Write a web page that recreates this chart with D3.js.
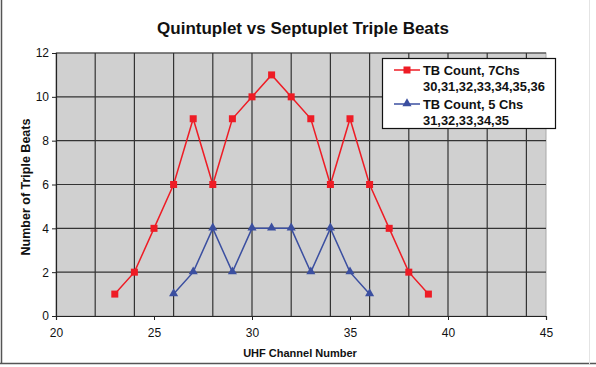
<!DOCTYPE html>
<html lang="en">
  <head>
    <meta charset="UTF-8" />
    <title>Quintuplet vs Septuplet Triple Beats</title>
    <script src="https://d3js.org/d3.v7.min.js"></script>
    <style>
      body { margin: 0; background: #fff; font-family: "Liberation Sans", Arial, sans-serif; }
    </style>
  </head>
  <body>
    <svg width="596" height="367"></svg>
    <script>
      const channels7 = [23, 24, 25, 26, 27, 28, 29, 30, 31, 32, 33, 34, 35, 36, 37, 38, 39];
      const counts7 = [1, 2, 4, 6, 9, 6, 9, 10, 11, 10, 9, 6, 9, 6, 4, 2, 1];
      const channels5 = [26, 27, 28, 29, 30, 31, 32, 33, 34, 35, 36];
      const counts5 = [1, 2, 4, 2, 4, 4, 4, 2, 4, 2, 1];
      const xTicks = [20, 25, 30, 35, 40, 45];
      const yTicks = [0, 2, 4, 6, 8, 10, 12];
      const xGrid = [22, 24, 26, 28, 30, 32, 34, 36, 38, 40, 42, 44];

      const svg = d3.select("svg");
      const margin = { left: 56, right: 50, top: 53, bottom: 51 };
      const width = 596, height = 367;

      const x = d3.scaleLinear().domain([20, 45]).range([margin.left, width - margin.right]);
      const y = d3.scaleLinear().domain([0, 12]).range([height - margin.bottom, margin.top]);

      // outer frame
      svg.append("line").attr("x1", 1.5).attr("x2", 1.5).attr("y1", 0).attr("y2", 364)
        .attr("stroke", "#555").attr("stroke-width", 1.5);
      svg.append("line").attr("x1", 0).attr("x2", 596).attr("y1", 363.5).attr("y2", 363.5)
        .attr("stroke", "#555").attr("stroke-width", 1.5);
      svg.append("line").attr("x1", 589.5).attr("x2", 589.5).attr("y1", 0).attr("y2", 364)
        .attr("stroke", "#e4e4e4");

      // plot area
      svg.append("rect")
        .attr("x", x(20)).attr("y", y(12))
        .attr("width", x(45) - x(20)).attr("height", y(0) - y(12))
        .attr("fill", "#d0d0d0").attr("stroke", "#a8a8a8");

      const grid = svg.append("g").attr("stroke", "#333").attr("stroke-width", 1.2);
      grid.selectAll(".gx").data(xGrid).enter().append("line")
        .attr("x1", (d) => x(d)).attr("x2", (d) => x(d))
        .attr("y1", y(0)).attr("y2", y(12));
      grid.selectAll(".gy").data(yTicks.slice(1)).enter().append("line")
        .attr("x1", x(20)).attr("x2", x(45))
        .attr("y1", (d) => y(d)).attr("y2", (d) => y(d));

      // axes
      const xAxis = svg.append("g")
        .attr("transform", `translate(0,${y(0)})`)
        .call(d3.axisBottom(x).tickValues(xTicks).tickSize(4).tickPadding(8));
      const yAxis = svg.append("g")
        .attr("transform", `translate(${x(20)},0)`)
        .call(d3.axisLeft(y).tickValues(yTicks).tickSize(4).tickPadding(3));
      [xAxis, yAxis].forEach((g) => {
        g.select(".domain").attr("stroke", "#222").attr("stroke-width", 1.2);
        g.selectAll(".tick line").attr("stroke", "#222");
        g.selectAll("text").attr("font-family", "Liberation Sans, Arial, sans-serif")
          .attr("font-size", 12).attr("fill", "#111");
      });

      // titles
      svg.append("text").attr("x", 303).attr("y", 34).attr("text-anchor", "middle")
        .attr("font-size", 17).attr("font-weight", "bold").attr("fill", "#111")
        .text("Quintuplet vs Septuplet Triple Beats");
      svg.append("text").attr("x", 300).attr("y", 357).attr("text-anchor", "middle")
        .attr("font-size", 11).attr("font-weight", "bold").attr("fill", "#111")
        .text("UHF Channel Number");
      svg.append("text").attr("transform", `translate(30,187) rotate(-90)`)
        .attr("text-anchor", "middle")
        .attr("font-size", 12.5).attr("font-weight", "bold").attr("fill", "#111")
        .text("Number of Triple Beats");

      const red = "#ee1c25", blue = "#3b4fa0";
      const line = d3.line().x((d) => x(d[0])).y((d) => y(d[1]));
      const tri = d3.symbol().type(d3.symbolTriangle).size(36);

      const s7 = channels7.map((c, i) => [c, counts7[i]]);
      const s5 = channels5.map((c, i) => [c, counts5[i]]);

      svg.append("path").datum(s7).attr("d", line)
        .attr("fill", "none").attr("stroke", red).attr("stroke-width", 1.5);
      svg.selectAll(".sq").data(s7).enter().append("rect")
        .attr("x", (d) => x(d[0]) - 3.5).attr("y", (d) => y(d[1]) - 3.5)
        .attr("width", 7).attr("height", 7).attr("fill", red);

      svg.append("path").datum(s5).attr("d", line)
        .attr("fill", "none").attr("stroke", blue).attr("stroke-width", 1.5);
      svg.selectAll(".tri").data(s5).enter().append("path")
        .attr("d", tri)
        .attr("transform", (d) => `translate(${x(d[0])},${y(d[1]) - 0.5})`)
        .attr("fill", blue);

      // legend
      const lg = svg.append("g").attr("transform", "translate(382,58)");
      lg.append("rect").attr("x", 0.5).attr("y", 0.5).attr("width", 173).attr("height", 70)
        .attr("fill", "#fff").attr("stroke", "#111").attr("stroke-width", 1.2);
      const items = [
        { color: red, shape: "sq", lines: ["TB Count, 7Chs", "30,31,32,33,34,35,36"] },
        { color: blue, shape: "tri", lines: ["TB Count, 5 Chs", "31,32,33,34,35"] }
      ];
      items.forEach((it, i) => {
        const g = lg.append("g").attr("transform", `translate(0,${12 + i * 34})`);
        g.append("line").attr("x1", 12).attr("x2", 38).attr("y1", 0).attr("y2", 0)
          .attr("stroke", it.color).attr("stroke-width", 1.5);
        if (it.shape === "sq") {
          g.append("rect").attr("x", 21.5).attr("y", -3.5).attr("width", 7).attr("height", 7)
            .attr("fill", it.color);
        } else {
          g.append("path").attr("d", tri).attr("transform", "translate(25,-0.5)").attr("fill", it.color);
        }
        it.lines.forEach((t, j) => {
          g.append("text").attr("x", 41).attr("y", 5 + j * 16)
            .attr("font-size", 12.9).attr("font-weight", "bold").attr("fill", "#111")
            .text(t);
        });
      });
    </script>
  </body>
</html>
